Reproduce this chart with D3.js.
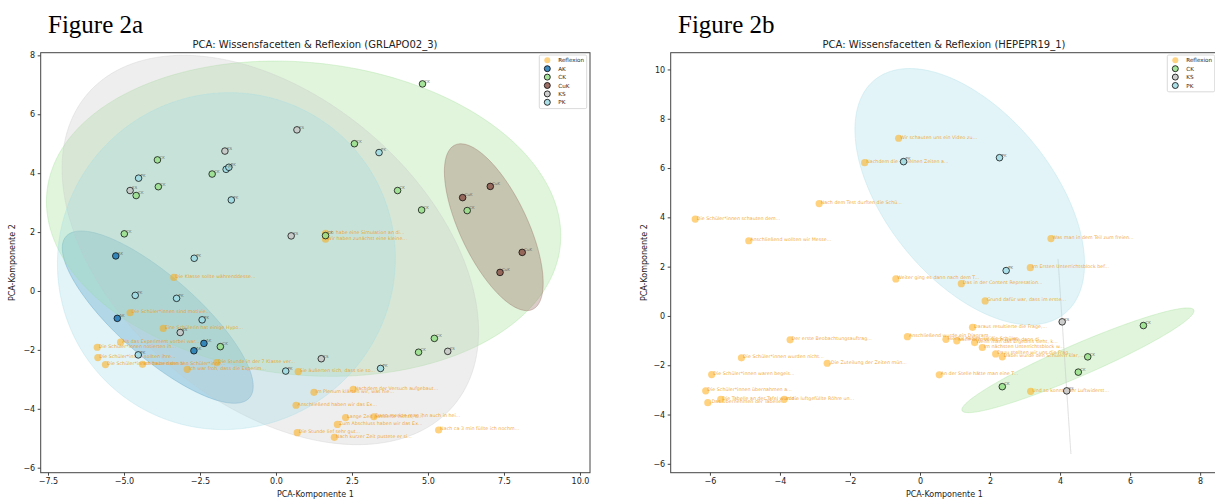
<!DOCTYPE html>
<html>
<head>
<meta charset="utf-8">
<script src="https://cdn.jsdelivr.net/npm/d3@7"></script>
<style>
  body { margin: 0; background: #fff; }
  svg { display: block; }
  text { font-family: "DejaVu Sans", sans-serif; }
</style>
</head>
<body>
<svg id="chart" width="1215" height="500"></svg>
<script>
// ---- Figure 2a (GRLAPO02_3) ----
const categoriesA = ["Reflexion", "AK", "CK", "CuK", "KS", "PK"];
const xTicksA = [-7.5, -5, -2.5, 0, 2.5, 5, 7.5, 10];
const yTicksA = [-6, -4, -2, 0, 2, 4, 6, 8];

const akA = [[-5.27, 1.19], [-5.22, -0.93], [-2.37, -1.78], [-2.7, -2.03]];
const ckA = [[-3.9, 4.45], [-2.1, 3.97], [-4.6, 3.24], [-3.87, 3.54], [-4.99, 1.94], [1.63, 1.88],
             [4.82, 7.03], [2.58, 5.0], [4.0, 3.41], [4.79, 2.75], [6.29, 2.73], [5.21, -1.61],
             [4.69, -2.08], [-1.83, -1.89]];
const cukA = [[7.05, 3.55], [6.14, 3.17], [8.1, 1.31], [7.37, 0.63]];
const ksA = [[0.69, 5.47], [-1.68, 4.75], [-4.8, 3.41], [0.5, 1.87], [5.65, -2.05], [1.49, -2.3], [-3.15, -1.41]];
const pkA = [[-1.64, 4.13], [-1.55, 4.2], [-4.52, 3.83], [-1.47, 3.09], [-2.69, 1.11], [3.39, 4.7],
             [3.44, -2.63], [-4.63, -0.15], [-3.27, -0.25], [-2.43, -0.98], [-4.53, -2.17], [0.32, -2.72]];
const reflexionA = [
  [-3.36, 0.46, "Die Klasse sollte währenddesse..."],
  [-4.8, -0.74, "Die Schüler*innen sind motivie..."],
  [-3.71, -1.27, "Eine Schülerin hat einige Hypo..."],
  [-5.11, -1.74, "Als das Experiment vorbei war..."],
  [-5.88, -1.91, "Die Schüler*innen notierten ih..."],
  [-5.86, -2.26, "Die Schüler*innen sollten ihre..."],
  [-5.61, -2.5, "Die Schüler*innen bauten den V..."],
  [-4.39, -2.49, "Ich habe dann den Schüler*inne..."],
  [-1.95, -2.43, "Die Stunde in der 7 Klasse ver..."],
  [-2.92, -2.66, "Ich war froh, dass die Experim..."],
  [0.73, -2.74, "Sie äußerten sich, dass sie so..."],
  [1.25, -3.44, "Im Plenum klärten wir, was hie..."],
  [2.54, -3.34, "Nachdem der Versuch aufgebaut..."],
  [0.66, -3.88, "Anschließend haben wir das Ex..."],
  [2.29, -4.3, "Lange Zeit passierte nichts, b..."],
  [3.22, -4.27, "Dann merkte man ihn auch in hei..."],
  [2.02, -4.53, "Zum Abschluss haben wir das Ex..."],
  [5.35, -4.72, "Nach ca 3 min füllte ich nochm..."],
  [0.7, -4.81, "Die Stunde lief sehr gut..."],
  [1.92, -4.97, "Nach kurzer Zeit pustete er si..."],
  [1.63, 1.96, "Ich habe eine Simulation an di..."],
  [1.63, 1.76, "Wir haben zunächst eine kleine..."]
];

// ---- Figure 2b (HEPEPR19_1) ----
const categoriesB = ["Reflexion", "CK", "KS", "PK"];
const xTicksB = [-6, -4, -2, 0, 2, 4, 6, 8];
const yTicksB = [-6, -4, -2, 0, 2, 4, 6, 8, 10];

const ckB = [[6.38, -0.39], [4.79, -1.66], [4.52, -2.28], [2.35, -2.87]];
const ksB = [[4.06, -0.24], [4.19, -3.04]];
const pkB = [[-0.47, 6.26], [2.27, 6.42], [2.46, 1.84]];
const reflexionB = [
  [-0.61, 7.21, "Wir schauten uns ein Video zu..."],
  [-1.58, 6.22, "Nachdem die einzelnen Zeiten a..."],
  [-2.88, 4.56, "Nach dem Test durften die Schü..."],
  [-6.42, 3.93, "Die Schüler*innen schauten dem..."],
  [-4.89, 3.05, "Anschließend wollten wir Messe..."],
  [3.74, 3.14, "Was man in dem Teil zum freien..."],
  [3.15, 1.96, "Im Ersten Unterrichtsblock bef..."],
  [-0.69, 1.5, "Weiter ging es dann nach dem T..."],
  [1.18, 1.31, "Das in der Content Represation..."],
  [1.86, 0.61, "Grund dafür war, dass im erste..."],
  [1.5, -0.46, "Daraus resultierte die Frage,..."],
  [-0.36, -0.84, "Anschließend wurde ein Diagram..."],
  [0.74, -0.95, "Hierfür haben wir die Schüler..."],
  [1.05, -1.01, "Nach dem Versuch wurde dann di..."],
  [1.56, -1.08, "Wenn man das Ergebnis sieht, k..."],
  [1.78, -1.28, "Im nächsten Unterrichtsblock w..."],
  [2.16, -1.54, "Dazu stellten wir uns die Frag..."],
  [2.35, -1.66, "Dabei wurde den Schülern klar,..."],
  [0.55, -2.39, "An der Stelle hätte man eine T..."],
  [3.16, -3.06, "Und so konnte der Luftwiderst..."],
  [-3.71, -0.97, "Der erste Beobachtungsauftrag..."],
  [-5.1, -1.7, "Die Schüler*innen wurden nicht..."],
  [-2.65, -1.92, "„Die Zuteilung der Zeiten mün..."],
  [-5.95, -2.38, "Die Schüler*innen waren begeis..."],
  [-6.12, -3.04, "Die Schüler*innen übernahmen a..."],
  [-6.06, -3.52, "„Das Übernehmen der Tabelle..."],
  [-5.69, -3.38, "Die Tabelle an der Tafel wurde..."],
  [-3.88, -3.38, "In die luftgefüllte Röhre un..."]
];

const palette = {
  Reflexion: "#ffa500", AK: "#1f77b4", CK: "#98df8a",
  CuK: "#8c564b", KS: "#c7c7c7", PK: "#9edae5"
};

const svg = d3.select("#chart");

// 2-sigma covariance ellipse (sample covariance) as a polygon in data space
function covEllipse(pts, nStd) {
  const n = pts.length;
  const mx = d3.mean(pts, d => d[0]), my = d3.mean(pts, d => d[1]);
  let sxx = 0, syy = 0, sxy = 0;
  pts.forEach(([x, y]) => {
    sxx += (x - mx) ** 2; syy += (y - my) ** 2; sxy += (x - mx) * (y - my);
  });
  sxx /= (n - 1); syy /= (n - 1); sxy /= (n - 1);
  const tr = sxx + syy, det = sxx * syy - sxy * sxy;
  const disc = Math.sqrt(Math.max(0, tr * tr / 4 - det));
  const l1 = tr / 2 + disc, l2 = Math.max(0, tr / 2 - disc);
  let vx, vy;
  if (Math.abs(sxy) > 1e-12) { vx = sxy; vy = l1 - sxx; }
  else if (sxx >= syy) { vx = 1; vy = 0; } else { vx = 0; vy = 1; }
  const nrm = Math.hypot(vx, vy); vx /= nrm; vy /= nrm;
  const a = nStd * Math.sqrt(l1), b = nStd * Math.sqrt(l2);
  return d3.range(0, 181).map(i => {
    const t = i / 180 * 2 * Math.PI;
    const c = Math.cos(t) * a, s = Math.sin(t) * b;
    return [mx + c * vx - s * vy, my + c * vy + s * vx];
  });
}

function drawPanel(cfg) {
  const { id, frame, xDomain, yDomain, xTicks, yTicks, xFmt, title, titleX,
          groups, reflexion, legendCats, figLabel, figX } = cfg;
  const x = d3.scaleLinear().domain(xDomain).range([frame.x0, frame.x1]);
  const y = d3.scaleLinear().domain(yDomain).range([frame.y1, frame.y0]);
  const g = svg.append("g");

  // figure label
  g.append("text").attr("x", figX).attr("y", 33)
    .style("font-family", "'Liberation Serif', serif")
    .attr("font-size", 25).attr("fill", "#000").text(figLabel);

  // title
  g.append("text").attr("x", titleX).attr("y", 48).attr("text-anchor", "middle")
    .attr("font-size", 10).attr("fill", "#222").text(title);

  const clipId = "clip-" + id;
  svg.append("clipPath").attr("id", clipId).append("rect")
    .attr("x", frame.x0).attr("y", frame.y0)
    .attr("width", frame.x1 - frame.x0).attr("height", frame.y1 - frame.y0);

  const plot = g.append("g").attr("clip-path", `url(#${clipId})`);

  // confidence ellipses
  const line = d3.line().x(d => x(d[0])).y(d => y(d[1]));
  groups.forEach(([cat, pts]) => {
    plot.append("path").attr("d", line(covEllipse(pts, 2)) + "Z")
      .attr("fill", palette[cat]).attr("fill-opacity", 0.3)
      .attr("stroke", palette[cat]).attr("stroke-opacity", 0.3).attr("stroke-width", 1);
  });

  // reflexion points and snippets
  plot.selectAll(".refl").data(reflexion).join("circle")
    .attr("cx", d => x(d[0])).attr("cy", d => y(d[1])).attr("r", 3.6)
    .attr("fill", palette.Reflexion).attr("fill-opacity", 0.5);
  plot.selectAll(".refltxt").data(reflexion).join("text")
    .attr("x", d => x(d[0]) + 1.5).attr("y", d => y(d[1]) + 0.5)
    .attr("font-size", 4.8).attr("fill", "#f0980c").attr("fill-opacity", 0.85)
    .text(d => d[2]);

  // category points
  groups.forEach(([cat, pts]) => {
    plot.selectAll(null).data(pts).join("circle")
      .attr("cx", d => x(d[0])).attr("cy", d => y(d[1])).attr("r", 3.3)
      .attr("fill", palette[cat]).attr("fill-opacity", 0.85)
      .attr("stroke", "#000").attr("stroke-opacity", 0.8).attr("stroke-width", 0.9);
    plot.selectAll(null).data(pts).join("text")
      .attr("x", d => x(d[0]) + 2).attr("y", d => y(d[1]) - 1.2)
      .attr("font-size", 4).attr("fill", "#555").attr("fill-opacity", 0.8)
      .text(cat);
  });

  // frame
  g.append("rect").attr("x", frame.x0).attr("y", frame.y0)
    .attr("width", frame.x1 - frame.x0).attr("height", frame.y1 - frame.y0)
    .attr("fill", "none").attr("stroke", "#444").attr("stroke-width", 1);

  // axes
  const xAxis = d3.axisBottom(x).tickValues(xTicks).tickFormat(xFmt)
    .tickSize(3).tickPadding(2.5);
  const yAxis = d3.axisLeft(y).tickValues(yTicks).tickFormat(d3.format("d"))
    .tickSize(3).tickPadding(2.5);
  const gx = g.append("g").attr("transform", `translate(0,${frame.y1})`).call(xAxis);
  const gy = g.append("g").attr("transform", `translate(${frame.x0},0)`).call(yAxis);
  [gx, gy].forEach(a => {
    a.select(".domain").remove();
    a.selectAll("line").attr("stroke", "#444");
    a.selectAll("text").attr("font-size", 8).attr("fill", "#222")
      .style("font-family", "'DejaVu Sans', sans-serif");
  });

  // axis labels
  g.append("text").attr("x", (frame.x0 + frame.x1) / 2).attr("y", 497)
    .attr("text-anchor", "middle").attr("font-size", 8).attr("fill", "#222")
    .text("PCA-Komponente 1");
  g.append("text")
    .attr("transform", `translate(${cfg.yLabelX},${(frame.y0 + frame.y1) / 2}) rotate(-90)`)
    .attr("text-anchor", "middle").attr("font-size", 8).attr("fill", "#222")
    .text("PCA-Komponente 2");

  // legend
  const lg = g.append("g");
  const lx1 = frame.x1 - 3.3, lw = 47.4, ly0 = frame.y0 + 2.3;
  const lh = 8.4 * legendCats.length + 3.2;
  lg.append("rect").attr("x", lx1 - lw).attr("y", ly0).attr("width", lw).attr("height", lh)
    .attr("rx", 1.5).attr("fill", "#fff").attr("fill-opacity", 0.8)
    .attr("stroke", "#d0d0d0").attr("stroke-width", 0.8);
  legendCats.forEach((cat, i) => {
    const cy = ly0 + 5.3 + i * 8.4;
    const c = lg.append("circle").attr("cx", lx1 - lw + 8).attr("cy", cy).attr("r", 3)
      .attr("fill", palette[cat]);
    if (cat === "Reflexion") c.attr("fill-opacity", 0.5);
    else c.attr("fill-opacity", 0.85).attr("stroke", "#000").attr("stroke-width", 0.8);
    lg.append("text").attr("x", lx1 - lw + 19).attr("y", cy + 2).attr("font-size", 5.6)
      .attr("fill", "#222").text(cat);
  });
}

drawPanel({
  id: "a",
  frame: { x0: 40.7, x1: 590, y0: 52.7, y1: 472.7 },
  xDomain: [-7.74, 10.33], yDomain: [-6.17, 8.09],
  xTicks: xTicksA, yTicks: yTicksA, xFmt: d3.format(".1f"),
  title: "PCA: Wissensfacetten & Reflexion (GRLAPO02_3)", titleX: 315,
  groups: [["AK", akA], ["CK", ckA], ["CuK", cukA], ["KS", ksA], ["PK", pkA]],
  reflexion: reflexionA, legendCats: categoriesA,
  figLabel: "Figure 2a", figX: 48, yLabelX: 15
});

drawPanel({
  id: "b",
  frame: { x0: 670.7, x1: 1218, y0: 52.7, y1: 472.7 },
  xDomain: [-7.12, 8.51], yDomain: [-6.36, 10.68],
  xTicks: xTicksB, yTicks: yTicksB, xFmt: d3.format("d"),
  title: "PCA: Wissensfacetten & Reflexion (HEPEPR19_1)", titleX: 944,
  groups: [["CK", ckB], ["KS", ksB], ["PK", pkB]],
  reflexion: reflexionB, legendCats: categoriesB,
  figLabel: "Figure 2b", figX: 678, yLabelX: 647
});
</script>
</body>
</html>
